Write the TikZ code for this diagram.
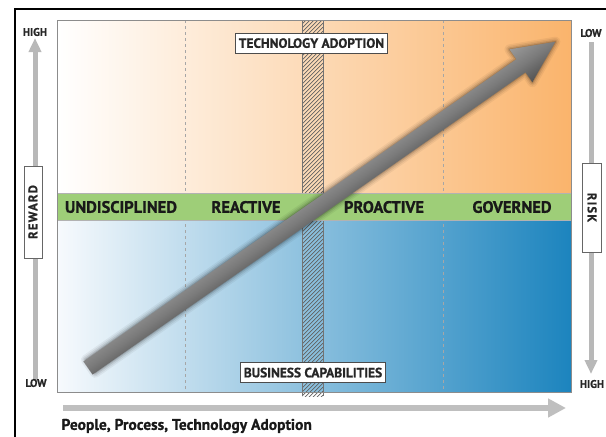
\documentclass[tikz,border=0pt]{standalone}
\usepackage{fontspec}
\setmainfont{PT Sans}
\newfontfamily\cond[BoldFeatures={FakeBold=0.9}]{PT Sans}
\newfontfamily\spaced[LetterSpace=10,BoldFeatures={FakeBold=0.9}]{PT Sans}
\usetikzlibrary{arrows.meta}
\definecolor{orangeR}{RGB}{250,180,108}
\definecolor{peachM}{RGB}{253,214,168}
\definecolor{blueL}{RGB}{247,250,253}
\definecolor{blueM}{RGB}{160,194,226}
\definecolor{blueR}{RGB}{28,132,190}
\definecolor{bandgreen}{RGB}{158,206,120}
\begin{document}
\begin{tikzpicture}[x=1pt,y=-1pt,
  lbl/.style={font=\cond\bfseries\fontsize{16.5}{16.5}\selectfont, text=black!90},
  tag/.style={draw=black!70, fill=white, line width=0.9pt, inner xsep=3.5pt, inner ysep=0pt,
    text height=9.6pt, text depth=0pt, minimum height=20pt,
    font=\cond\bfseries\fontsize{13.4}{13.4}\selectfont, text=black!85},
  vtag/.style={draw=black!60, fill=white, line width=0.8pt, inner sep=1pt, text height=8.6pt, text depth=0pt,
    font=\spaced\bfseries\fontsize{12.5}{12.5}\selectfont, text=black!85},
  axislbl/.style={font=\cond\bfseries\fontsize{11}{11}\selectfont, text=black!85},
  axisarrow/.style={draw=black!28, line width=5pt, -{Triangle[width=12pt,length=14pt]}},
  divider/.style={dashed, black!35, line width=0.5pt},
  hatchline/.style={black!62, line width=0.7pt},
]
\useasboundingbox (0,0) rectangle (606,437);
\fill[white] (0,0) rectangle (606,437);
% outer frame
\draw[line width=1.2pt] (15,445) -- (15,9) -- (615,9);
% regions
\shade[left color=white, middle color=peachM, right color=orangeR] (57,20) rectangle (571,193);
\shade[left color=blueL, middle color=blueM, right color=blueR] (57,220) rectangle (571,392);
\draw[divider] (185,20) -- (185,392);
\draw[divider] (443,20) -- (443,392);
% hatched column
\begin{scope}
  \clip (302,20) rectangle (323,396);
  \foreach \k in {20,24,...,424} { \draw[hatchline] (302,\k) -- (323,\k-21); }
\end{scope}
\draw[black!55, line width=0.5pt] (302,20) -- (302,396) (323,20) -- (323,396);
% green band (covers the hatch)
\fill[bandgreen] (57,193) rectangle (571,220);
\draw[black!30, line width=0.4pt] (57,193) -- (571,193) (57,220) -- (571,220);
\draw[black!45, line width=0.8pt] (57,20) rectangle (571,392);
% band labels
\node[lbl] (und) at (121,207) {UNDISCIPLINED};
\node[lbl] (rea) at (246,207) {REACTIVE};
\node[lbl] (pro) at (384,207) {PROACTIVE};
\node[lbl] (gov) at (512,207) {GOVERNED};
% tags
\node[tag] (tech) at (311.5,43) {TECHNOLOGY ADOPTION};
\node[tag] (bus) at (313,372.5) {BUSINESS CAPABILITIES};
% big arrow
\begin{scope}[transform canvas={shift={(88,368)}, rotate=34.92}]
  \foreach \w/\o in {10/0.05,7/0.07,4/0.1,1.5/0.15}{
    \draw[black, opacity=\o, line width=\w pt, line join=round]
      (3,-8) -- (528,-8) -- (528,-20) -- (570,0) -- (528,20) -- (528,8) -- (3,8) -- cycle;
  }
  \shade[top color=black!40, bottom color=black!68, middle color=black!52]
    (0,-8) -- (528,-8) -- (528,-20) -- (570,0) -- (528,20) -- (528,8) -- (0,8) -- cycle;
\end{scope}
% reward axis
\coordinate (rwB) at (35,380);
\coordinate (rwT) at (35,38);
\draw[axisarrow] (rwB) -- (rwT);
\node[vtag, rotate=90, minimum width=92pt, minimum height=18pt] (reward) at (33,212) {REWARD};
\node[axislbl] (hiL) at (35,32) {HIGH};
\node[axislbl] (loL) at (36,383) {LOW};
% risk axis
\coordinate (rkT) at (591,42);
\coordinate (rkB) at (591,374);
\draw[axisarrow] (rkT) -- (rkB);
\node[vtag, rotate=-90, minimum width=89pt, minimum height=19pt] (risk) at (592,207.5) {RISK};
\node[axislbl] (loR) at (591,33) {LOW};
\node[axislbl] (hiR) at (592,384) {HIGH};
% bottom axis
\coordinate (bxL) at (63,408);
\coordinate (bxR) at (566,408);
\draw[draw=black!25, line width=6pt, -{Triangle[width=18pt,length=18pt]}] (bxL) -- (bxR);
\node[anchor=west, font=\cond\bfseries\fontsize{15.5}{15.5}\selectfont, text=black!90] (ppl) at (58,426) {People, Process, Technology Adoption};
\end{tikzpicture}
\end{document}
